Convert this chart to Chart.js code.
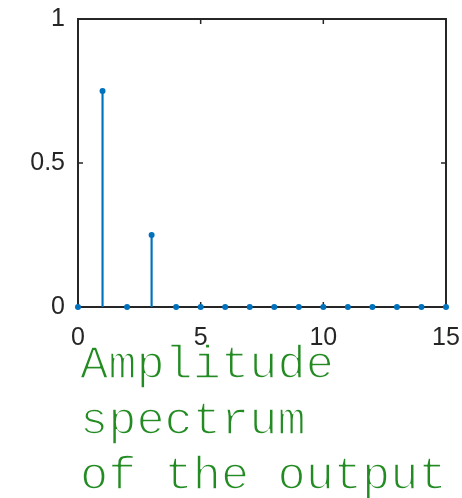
<!DOCTYPE html>
<html>
<head>
<meta charset="utf-8">
<script src="https://cdn.jsdelivr.net/npm/chart.js@4"></script>
<style>
  html, body { margin: 0; padding: 0; background: #fff; }
  #wrap { width: 462px; height: 498px; }
</style>
</head>
<body>
<div id="wrap"><canvas id="stemChart"></canvas></div>
<script>
// data
const binIndex = [0, 1, 2, 3, 4, 5, 6, 7, 8, 9, 10, 11, 12, 13, 14, 15];
const amplitude = [0, 0.75, 0, 0.25, 0, 0, 0, 0, 0, 0, 0, 0, 0, 0, 0, 0];
const xTicks = [0, 5, 10, 15];
const yTicks = [0, 0.5, 1];
const titleLines = ['Amplitude', 'spectrum', 'of the output'];

const axisColor = '#262626';
const stemColor = '#0072BD';

const points = binIndex.map((x, i) => ({ x: x, y: amplitude[i] }));

// box + inward ticks, matlab style
const boxPlugin = {
    id: 'box',
    beforeDatasetsDraw(chart) {
        const ctx = chart.ctx;
        const a = chart.chartArea;
        const xs = chart.scales.x, ys = chart.scales.y;
        const len = 5;
        ctx.save();
        ctx.strokeStyle = axisColor;
        ctx.lineWidth = 2;
        ctx.strokeRect(a.left, a.top, a.right - a.left, a.bottom - a.top);
        ctx.lineWidth = 1.5;
        ctx.beginPath();
        xTicks.forEach(v => {
            const px = xs.getPixelForValue(v);
            ctx.moveTo(px, a.bottom); ctx.lineTo(px, a.bottom - len);
            ctx.moveTo(px, a.top); ctx.lineTo(px, a.top + len);
        });
        yTicks.forEach(v => {
            const py = ys.getPixelForValue(v);
            ctx.moveTo(a.left, py); ctx.lineTo(a.left + len, py);
            ctx.moveTo(a.right, py); ctx.lineTo(a.right - len, py);
        });
        ctx.stroke();
        ctx.restore();
    }
};

// green courier title under the axes
const titlePlugin = {
    id: 'monoTitle',
    afterDraw(chart) {
        const ctx = chart.ctx;
        const a = chart.chartArea;
        ctx.save();
        ctx.font = '47px "Liberation Mono", "Courier New", monospace';
        ctx.textAlign = 'left';
        ctx.textBaseline = 'alphabetic';
        ctx.lineJoin = 'round';
        titleLines.forEach((t, i) => {
            const x = a.left + 2, y = a.bottom + 71 + i * 55.5;
            ctx.fillStyle = 'rgb(34, 139, 34)';
            ctx.fillText(t, x, y);
            // thin the strokes a bit, courier new is lighter
            ctx.strokeStyle = '#fff';
            ctx.lineWidth = 1.6;
            ctx.strokeText(t, x, y);
        });
        ctx.restore();
    }
};

new Chart(document.getElementById('stemChart'), {
    type: 'scatter',
    data: {
        datasets: [{
            type: 'bar',
            data: points,
            backgroundColor: stemColor,
            borderWidth: 0,
            barThickness: 1.5,
            order: 2
        }, {
            type: 'scatter',
            data: points,
            pointRadius: 3,
            pointBackgroundColor: stemColor,
            pointBorderWidth: 0,
            clip: false,
            order: 1
        }]
    },
    options: {
        responsive: true,
        maintainAspectRatio: false,
        animation: false,
        layout: { padding: { top: 19, right: 16, left: 0, bottom: 0 } },
        plugins: {
            legend: { display: false },
            tooltip: { enabled: false }
        },
        scales: {
            x: {
                type: 'linear',
                min: 0,
                max: 15,
                offset: false,
                grid: { display: false },
                border: { display: false },
                afterBuildTicks: s => { s.ticks = xTicks.map(v => ({ value: v })); },
                afterFit: s => { s.height = 191; s.paddingLeft = 0; s.paddingRight = 0; },
                ticks: {
                    color: axisColor,
                    padding: 8,
                    maxRotation: 0,
                    font: { family: '"Liberation Sans", Arial, sans-serif', size: 25 }
                }
            },
            y: {
                min: 0,
                max: 1,
                grid: { display: false },
                border: { display: false },
                afterBuildTicks: s => { s.ticks = yTicks.map(v => ({ value: v })); },
                afterFit: s => { s.width = 78; s.paddingTop = 0; s.paddingBottom = 0; },
                ticks: {
                    color: axisColor,
                    padding: 5,
                    callback: v => String(v),
                    font: { family: '"Liberation Sans", Arial, sans-serif', size: 25 }
                }
            }
        }
    },
    plugins: [boxPlugin, titlePlugin]
});
</script>
</body>
</html>
